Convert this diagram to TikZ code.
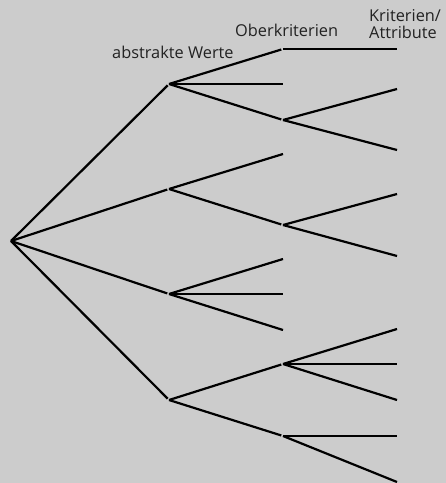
\documentclass[tikz,border=0pt]{standalone}
\usepackage{fontspec}
\setmainfont{Open Sans}
\definecolor{bg}{HTML}{CCCCCC}
\definecolor{txt}{HTML}{222222}
\begin{document}
\begin{tikzpicture}[x=1bp,y=-1bp,
  edge/.style={line width=2.2bp, line cap=butt, line join=miter},
  inedge/.style={edge, shorten >=1.8bp},
  lbl/.style={font=\fontsize{16.4}{19}\selectfont, inner sep=0pt, text=txt}]
\fill[bg] (0,0) rectangle (446,483);
\useasboundingbox (0,0) rectangle (446,483);
% root and levels
\coordinate (r) at (11,241);
\coordinate (a) at (169,84);
\coordinate (b) at (169,189);
\coordinate (c) at (169,294);
\coordinate (d) at (169,400);
% level 2
\coordinate (a1) at (283,49);
\coordinate (a2) at (283,84);
\coordinate (a3) at (283,120);
\coordinate (b1) at (283,154);
\coordinate (b2) at (283,225);
\coordinate (c1) at (283,259);
\coordinate (c2) at (283,294);
\coordinate (c3) at (283,330);
\coordinate (d1) at (283,364);
\coordinate (d2) at (283,436);
% level 3
\coordinate (a11) at (397,49);
\coordinate (a31) at (397,89);
\coordinate (a32) at (397,150);
\coordinate (b21) at (397,194);
\coordinate (b22) at (397,256);
\coordinate (d11) at (397,329);
\coordinate (d12) at (397,364);
\coordinate (d13) at (397,400);
\coordinate (d21) at (397,436);
\coordinate (d22) at (397,482);
% edges
\foreach \t in {a,b,c,d} \draw[inedge] (r) -- (\t);
\foreach \t in {a2} \draw[edge] (a) -- (\t);
\foreach \t in {a1,a3} \draw[inedge] (a) -- (\t);
\foreach \t in {b1} \draw[edge] (b) -- (\t);
\foreach \t in {b2} \draw[inedge] (b) -- (\t);
\foreach \t in {c1,c2,c3} \draw[edge] (c) -- (\t);
\foreach \t in {d1,d2} \draw[inedge] (d) -- (\t);
\draw[edge] (a1) -- (a11);
\foreach \t in {a31,a32} \draw[edge] (a3) -- (\t);
\foreach \t in {b21,b22} \draw[edge] (b2) -- (\t);
\foreach \t in {d11,d12,d13} \draw[edge] (d1) -- (\t);
\foreach \t in {d21,d22} \draw[edge] (d2) -- (\t);
% labels
\node[lbl, anchor=base west] (l1) at (112,59) {abstrakte Werte};
\node[lbl, anchor=base west] (l2) at (235,36.5) {Oberkriterien};
\node[lbl, anchor=base west] (l3) at (369,21.5) {Kriterien/};
\node[lbl, anchor=base west] (l4) at (369,39) {Attribute};
\end{tikzpicture}
\end{document}
